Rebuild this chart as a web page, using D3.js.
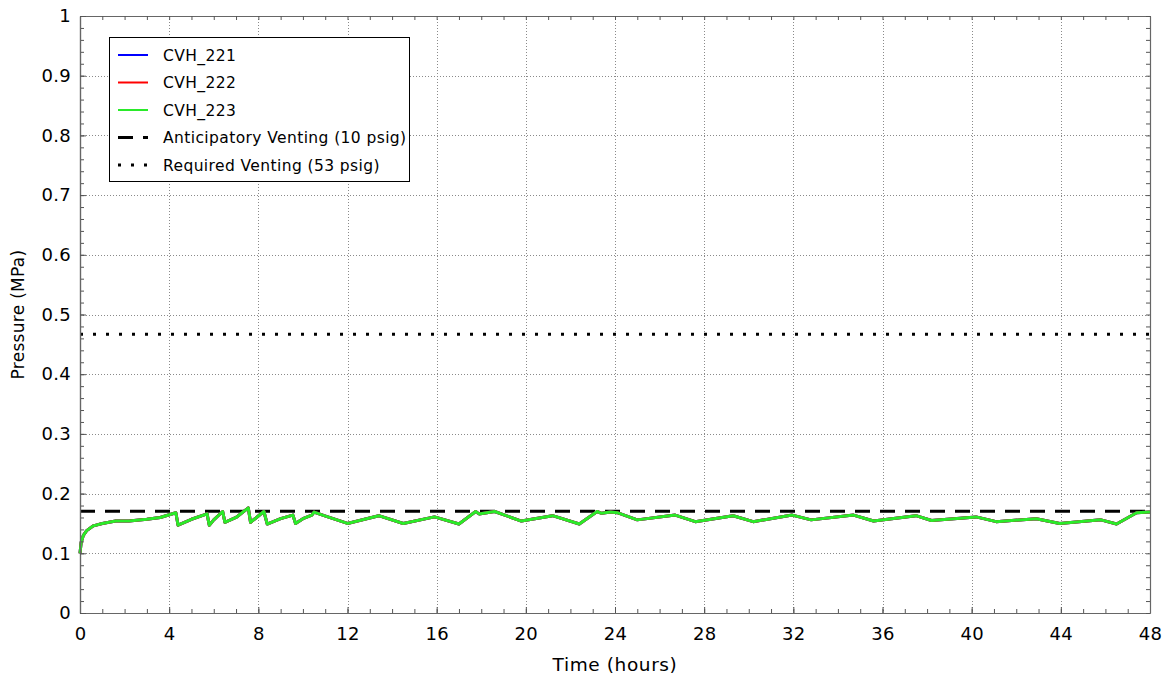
<!DOCTYPE html>
<html><head><meta charset="utf-8">
<script src="https://cdn.jsdelivr.net/npm/d3@7"></script>
<style>
body{margin:0;background:#fff}
svg text{font-family:"DejaVu Sans",sans-serif;fill:#000}
</style>
</head><body>
<svg id="chart" width="1172" height="681"></svg>
<script>
// ---- data ----
const hours = [0,0.05,0.15,0.3,0.6,1.0,1.6,2.2,3.0,3.6,4.3,4.4,5.0,5.7,5.8,6.0,6.4,6.5,7.0,7.55,7.65,8.25,8.4,9.0,9.55,9.67,10.0,10.4,10.5,10.95,12.0,13.4,14.5,15.9,17.0,17.75,17.9,18.6,19.8,21.2,22.4,23.2,23.4,23.8,24.1,25.0,26.7,27.6,29.3,30.2,31.95,32.8,34.7,35.6,37.5,38.2,40.2,41.1,42.9,43.95,45.8,46.5,47.4,48];
const cvh221 = [0.100,0.118,0.130,0.138,0.146,0.150,0.154,0.154,0.157,0.160,0.168,0.147,0.157,0.166,0.147,0.156,0.170,0.152,0.160,0.176,0.152,0.170,0.149,0.158,0.164,0.150,0.158,0.164,0.169,0.163,0.150,0.163,0.150,0.161,0.149,0.170,0.166,0.170,0.154,0.163,0.149,0.170,0.167,0.169,0.168,0.156,0.164,0.153,0.163,0.153,0.164,0.156,0.164,0.154,0.163,0.155,0.161,0.153,0.158,0.150,0.156,0.149,0.168,0.169];
const cvh222 = [0.100,0.118,0.130,0.138,0.146,0.150,0.154,0.154,0.157,0.160,0.168,0.147,0.157,0.166,0.147,0.156,0.170,0.152,0.160,0.176,0.152,0.170,0.149,0.158,0.164,0.150,0.158,0.164,0.169,0.163,0.150,0.163,0.150,0.161,0.149,0.170,0.166,0.170,0.154,0.163,0.149,0.170,0.167,0.169,0.168,0.156,0.164,0.153,0.163,0.153,0.164,0.156,0.164,0.154,0.163,0.155,0.161,0.153,0.158,0.150,0.156,0.149,0.168,0.169];
const cvh223 = [0.100,0.118,0.130,0.138,0.146,0.150,0.154,0.154,0.157,0.160,0.168,0.147,0.157,0.166,0.147,0.156,0.170,0.152,0.160,0.176,0.152,0.170,0.149,0.158,0.164,0.150,0.158,0.164,0.169,0.163,0.150,0.163,0.150,0.161,0.149,0.170,0.166,0.170,0.154,0.163,0.149,0.170,0.167,0.169,0.168,0.156,0.164,0.153,0.163,0.153,0.164,0.156,0.164,0.154,0.163,0.155,0.161,0.153,0.158,0.150,0.156,0.149,0.168,0.169];
const seriesNames = ["CVH_221","CVH_222","CVH_223"];
const seriesColors = ["#0000ff","#ff0000","#2aea2a"];
const anticipatoryVenting = 0.1703; // 10 psig in MPa (abs)
const requiredVenting = 0.4668;     // 53 psig in MPa (abs)
const refNames = ["Anticipatory Venting (10 psig)","Required Venting (53 psig)"];
const xTicks = [0,4,8,12,16,20,24,28,32,36,40,44,48];
const xMinorTicks = d3.range(0,49,1);
const yTicks = [0,0.1,0.2,0.3,0.4,0.5,0.6,0.7,0.8,0.9,1];
const yTickLabels = ["0","0.1","0.2","0.3","0.4","0.5","0.6","0.7","0.8","0.9","1"];
const yMinorTicks = d3.range(0,51).map(i=>i/50);

// ---- layout ----
const L=80, R=1150, T=16, B=613;
const svg = d3.select("#chart");
const x = d3.scaleLinear().domain([0,48]).range([L,R]);
const y = d3.scaleLinear().domain([0,1]).range([B,T]);

// gridlines
const grid = svg.append("g").attr("stroke","#8a8a8a").attr("stroke-width",1).attr("stroke-dasharray","1,2");
grid.selectAll("line.gx").data(xTicks.slice(1,-1)).join("line")
  .attr("x1",d=>Math.round(x(d))+0.5).attr("x2",d=>Math.round(x(d))+0.5).attr("y1",T).attr("y2",B);
grid.selectAll("line.gy").data(yTicks.slice(1,-1)).join("line")
  .attr("y1",d=>Math.round(y(d))+0.5).attr("y2",d=>Math.round(y(d))+0.5).attr("x1",L).attr("x2",R);

// reference lines
svg.append("line").attr("x1",L).attr("x2",R).attr("y1",y(requiredVenting)).attr("y2",y(requiredVenting))
  .attr("stroke","#000").attr("stroke-width",3).attr("stroke-dasharray","3,10");
svg.append("line").attr("x1",L).attr("x2",R).attr("y1",y(anticipatoryVenting)).attr("y2",y(anticipatoryVenting))
  .attr("stroke","#000").attr("stroke-width",3).attr("stroke-dasharray","15,10");

// series
const line = d3.line().x((d,i)=>x(hours[i])).y(d=>y(d));
[cvh221,cvh222,cvh223].forEach((s,k)=>{
  svg.append("path").datum(s).attr("d",line).attr("fill","none")
    .attr("stroke",seriesColors[k]).attr("stroke-width",3).attr("stroke-linejoin","round");
});

// axes
function style(g, labels){
  g.select(".domain").attr("stroke","#666").attr("stroke-width",1.2);
  g.selectAll(".tick line").attr("stroke","#555");
  g.selectAll(".tick text").style("font-size","18px").style("letter-spacing","0.3px").attr("fill","#000");
  if(!labels) g.selectAll(".tick text").remove();
}
const fmtY = (d)=>yTickLabels[yTicks.indexOf(d)];
svg.append("g").attr("transform",`translate(0,${B})`)
  .call(d3.axisBottom(x).tickValues(xMinorTicks).tickSize(-4).tickSizeOuter(0).tickFormat(""))
  .call(g=>style(g,false));
svg.append("g").attr("transform",`translate(0,${B})`)
  .call(d3.axisBottom(x).tickValues(xTicks).tickSize(-6).tickSizeOuter(0).tickPadding(14).tickFormat(d3.format("d")))
  .call(g=>style(g,true));
svg.append("g").attr("transform",`translate(0,${T})`)
  .call(d3.axisTop(x).tickValues(xMinorTicks).tickSize(-4).tickSizeOuter(0).tickFormat(""))
  .call(g=>style(g,false));
svg.append("g").attr("transform",`translate(${L},0)`)
  .call(d3.axisLeft(y).tickValues(yMinorTicks).tickSize(-4).tickSizeOuter(0).tickFormat(""))
  .call(g=>style(g,false));
svg.append("g").attr("transform",`translate(${L},0)`)
  .call(d3.axisLeft(y).tickValues(yTicks).tickSize(-6).tickSizeOuter(0).tickPadding(9).tickFormat(fmtY))
  .call(g=>style(g,true));
svg.append("g").attr("transform",`translate(${R},0)`)
  .call(d3.axisRight(y).tickValues(yMinorTicks).tickSize(-4).tickSizeOuter(0).tickFormat(""))
  .call(g=>style(g,false));

// axis titles
svg.append("text").attr("x",(L+R)/2).attr("y",671).attr("text-anchor","middle")
  .style("font-size","18.5px").style("letter-spacing","0.6px").text("Time (hours)");
svg.append("text").attr("transform",`translate(24,${(T+B)/2}) rotate(-90)`).attr("text-anchor","middle")
  .style("font-size","17px").style("letter-spacing","0.3px").text("Pressure (MPa)");

// legend
const lg = svg.append("g");
lg.append("rect").attr("x",109.5).attr("y",37.5).attr("width",300).attr("height",144)
  .attr("fill","#fff").attr("stroke","#000").attr("stroke-width",1);
const entries = seriesNames.map((n,i)=>({name:n,color:seriesColors[i],dash:null,w:2}))
  .concat([{name:refNames[0],color:"#000",dash:"15,10",w:3},{name:refNames[1],color:"#000",dash:"3,10",w:3}]);
entries.forEach((e,i)=>{
  const yy = 55 + i*27.5;
  lg.append("line").attr("x1",118).attr("x2",148).attr("y1",yy).attr("y2",yy)
    .attr("stroke",e.color).attr("stroke-width",e.w).attr("stroke-dasharray",e.dash);
  lg.append("text").attr("x",163).attr("y",yy+5.5).style("font-size","15.5px").style("letter-spacing","0.4px")
    .attr("fill","#222").text(e.name);
});
</script>
</body></html>
